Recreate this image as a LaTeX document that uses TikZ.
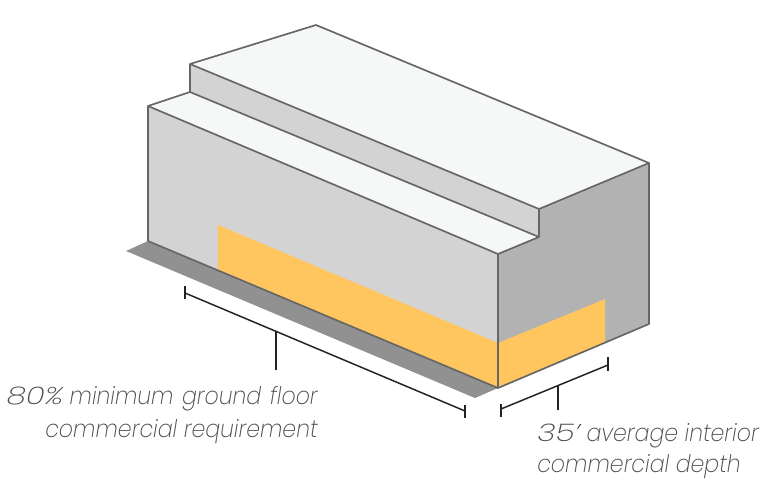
\documentclass[tikz,border=0pt]{standalone}
\usepackage{fontspec}
\newfontfamily\labfont[FakeStretch=0.91,ItalicFont={Poppins ExtraLight Italic},UprightFont={Poppins ExtraLight},ItalicFeatures={FakeStretch=0.91}]{Poppins ExtraLight}
\newfontfamily\digfont[FakeStretch=1.3,ItalicFont={Poppins ExtraLight Italic},UprightFont={Poppins ExtraLight},ItalicFeatures={FakeStretch=1.3}]{Poppins ExtraLight}
\definecolor{topc}{HTML}{F6F8F7}
\definecolor{frontc}{HTML}{D3D3D3}
\definecolor{sidec}{HTML}{B2B2B2}
\definecolor{yel}{HTML}{FFC65F}
\definecolor{shad}{HTML}{919191}
\definecolor{edgec}{HTML}{666666}
\definecolor{dimc}{HTML}{222222}
\definecolor{txt}{HTML}{4A4A4A}
\newcommand{\wdig}[1]{{\digfont\itshape #1}}
\tikzset{
  edgeline/.style={draw=edgec,line width=1.25pt,line join=round},
  dimline/.style={draw=dimc,line width=1.1pt},
  lab/.style={inner sep=0pt,text=txt,font=\labfont\itshape\fontsize{18.2}{18.2}\selectfont}
}
\begin{document}
\begin{tikzpicture}[x=0.75pt,y=-0.75pt]
\useasboundingbox (0,0) rectangle (765,486);
\fill[white] (0,0) rectangle (765,486);
% shadow
\fill[shad] (126,251) -- (148,241) -- (498,388) -- (475,398) -- cycle;
% side
\fill[sidec] (498,254) -- (539,237) -- (539,209) -- (649,163) -- (649,324) -- (498,388) -- cycle;
% front faces
\fill[frontc] (148,106) -- (498,254) -- (498,388) -- (148,241) -- cycle;
\fill[frontc] (190,64) -- (539,209) -- (539,237) -- (190,92) -- cycle;
% tops
\fill[topc] (190,64) -- (316,25) -- (649,163) -- (539,209) -- cycle;
\fill[topc] (148,106) -- (190,92) -- (539,237) -- (498,254) -- cycle;
% yellow
\fill[yel] (218,225) -- (498,343) -- (498,388) -- (218,270) -- cycle;
\fill[yel] (498,343) -- (605,299) -- (605,343) -- (498,388) -- cycle;
% edges
\draw[edgeline] (148,241) -- (148,106) -- (190,92) -- (190,64) -- (316,25) -- (649,163) -- (649,324) -- (498,388) -- (148,241);
\draw[edgeline] (148,106) -- (498,254) -- (539,237) -- (539,209) -- (649,163);
\draw[edgeline] (190,64) -- (539,209);
\draw[edgeline] (190,92) -- (539,237);
\draw[edgeline] (498,254) -- (498,388);
% dimensions
\draw[dimline] (185,293) -- (465,411);
\draw[dimline] (185,286) -- (185,299);
\draw[dimline] (465,405) -- (465,418);
\draw[dimline] (276,332) -- (276,370);
\draw[dimline] (501,409) -- (608,365);
\draw[dimline] (501,404) -- (501,417);
\draw[dimline] (608,357) -- (608,371);
\draw[dimline] (558,386) -- (558,410);
% labels
\node[lab,anchor=base east] (a) at (318,404) {\wdig{80\%} minimum\hspace{1.5pt} ground\hspace{1.5pt} floor};
\node[lab,anchor=base east] (b) at (318,437) {commercial requirement};
\node[lab,anchor=base west] (c) at (537,441) {\wdig{35’} average interior};
\node[lab,anchor=base west] (d) at (537,472) {commercial depth};
\end{tikzpicture}
\end{document}
